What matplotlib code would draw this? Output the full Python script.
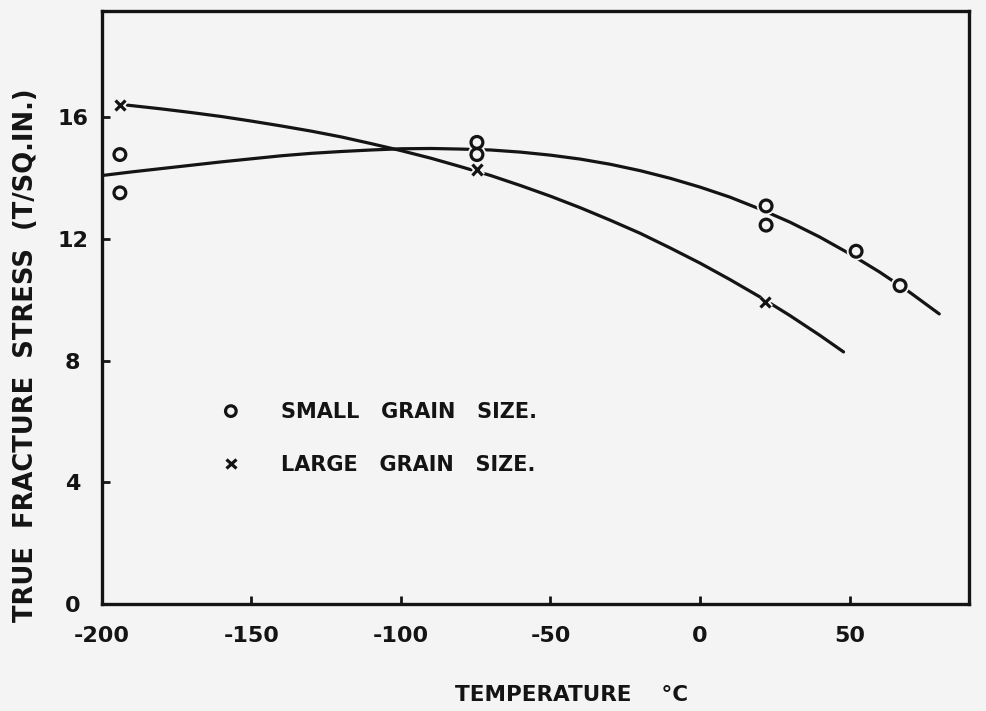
import matplotlib
matplotlib.use("Agg")
import matplotlib.pyplot as plt
import matplotlib.patheffects as pe

# Measured fracture stress (tons per square inch) against test temperature (deg C)
small_temp = [-194, -194, -74.6, -74.6, 22.1, 22.1, 52.2, 66.9]
small_stress = [14.78, 13.52, 15.18, 14.78, 13.09, 12.46, 11.60, 10.47]

large_temp = [-194, -74.6, 21.7]
large_stress = [16.41, 14.29, 9.93]

# Smooth trend curves drawn through each series
small_curve_temp = [-200, -190, -180, -170, -160, -150, -140, -130, -120, -110,
                    -100, -90, -80, -70, -60, -50, -40, -30, -20, -10,
                    0, 10, 20, 30, 40, 50, 60, 70, 80]
small_curve_stress = [14.09, 14.21, 14.32, 14.43, 14.54, 14.64, 14.74, 14.82,
                      14.88, 14.93, 14.97, 14.98, 14.96, 14.93, 14.86, 14.76,
                      14.63, 14.46, 14.25, 14.00, 13.71, 13.38, 12.99, 12.56,
                      12.07, 11.52, 10.92, 10.26, 9.54]

large_curve_temp = [-192, -180, -170, -160, -150, -140, -130, -120, -110, -100,
                    -90, -80, -70, -60, -50, -40, -30, -20, -10, 0,
                    10, 20, 30, 40, 48]
large_curve_stress = [16.41, 16.28, 16.16, 16.03, 15.88, 15.72, 15.55, 15.36,
                      15.14, 14.91, 14.66, 14.38, 14.09, 13.76, 13.41, 13.03,
                      12.62, 12.19, 11.71, 11.21, 10.67, 10.10, 9.49, 8.84, 8.29]

x_ticks = [-200, -150, -100, -50, 0, 50]
x_tick_labels = ["-200", "-150", "-100", "-50", "0", "50"]
y_ticks = [0, 4, 8, 12, 16]
y_tick_labels = ["0", "4", "8", "12", "16"]

ink = "#141414"
paper = "#f4f4f4"

plt.rcParams["font.family"] = ["DejaVu Sans"]
plt.rcParams["font.weight"] = "bold"

fig = plt.figure(figsize=(9.86, 7.11), dpi=100, facecolor=paper)
ax = fig.add_axes([0.1034, 0.1505, 0.8795, 0.834])
ax.set_facecolor(paper)

ax.plot(small_curve_temp, small_curve_stress, color=ink, lw=2.3,
        solid_capstyle="round", solid_joinstyle="round", zorder=2)
ax.plot(large_curve_temp, large_curve_stress, color=ink, lw=2.3,
        solid_capstyle="round", solid_joinstyle="round", zorder=2)

halo = [pe.Stroke(linewidth=5, foreground=paper), pe.Normal()]
h_small, = ax.plot(small_temp, small_stress, linestyle="none", marker="o",
                   ms=8.5, mew=2.3, mec=ink, mfc=paper, zorder=3,
                   path_effects=halo, label="SMALL   GRAIN   SIZE.")
h_large, = ax.plot(large_temp, large_stress, linestyle="none", marker="x",
                   ms=7.5, mew=2.3, mec=ink, zorder=3,
                   path_effects=halo, label="LARGE   GRAIN   SIZE.")

ax.set_xlim(-200, 90)
ax.set_ylim(0, 19.5)

ax.set_xticks(x_ticks)
ax.set_xticklabels(x_tick_labels)
ax.set_yticks(y_ticks)
ax.set_yticklabels(y_tick_labels)
ax.tick_params(axis="both", direction="in", length=6, width=2, color=ink,
               labelcolor=ink, labelsize=16)
ax.tick_params(axis="x", pad=16)
ax.tick_params(axis="y", pad=21)
for lab in ax.get_yticklabels():
    lab.set_ha("center")

for side in ax.spines.values():
    side.set_linewidth(2.4)
    side.set_color(ink)

ax.set_xlabel("TEMPERATURE    \u00b0C", fontsize=15.5, fontweight="bold",
              color=ink, va="center")
ax.xaxis.set_label_coords(0.542, -0.153)
ax.set_ylabel("TRUE  FRACTURE  STRESS  (T/SQ.IN.)", fontsize=18.5,
              fontweight="bold", color=ink, va="center")
ax.yaxis.set_label_coords(-0.088, 0.42)

leg = ax.legend(handles=[h_small, h_large], loc="center left",
                bbox_to_anchor=(0.115, 0.279), frameon=False, fontsize=15,
                handlelength=1.0, handletextpad=1.9, labelspacing=1.55,
                markerscale=0.9)
for t in leg.get_texts():
    t.set_color(ink)
    t.set_fontweight("bold")

fig.savefig("out.png", dpi=100, facecolor=paper)
